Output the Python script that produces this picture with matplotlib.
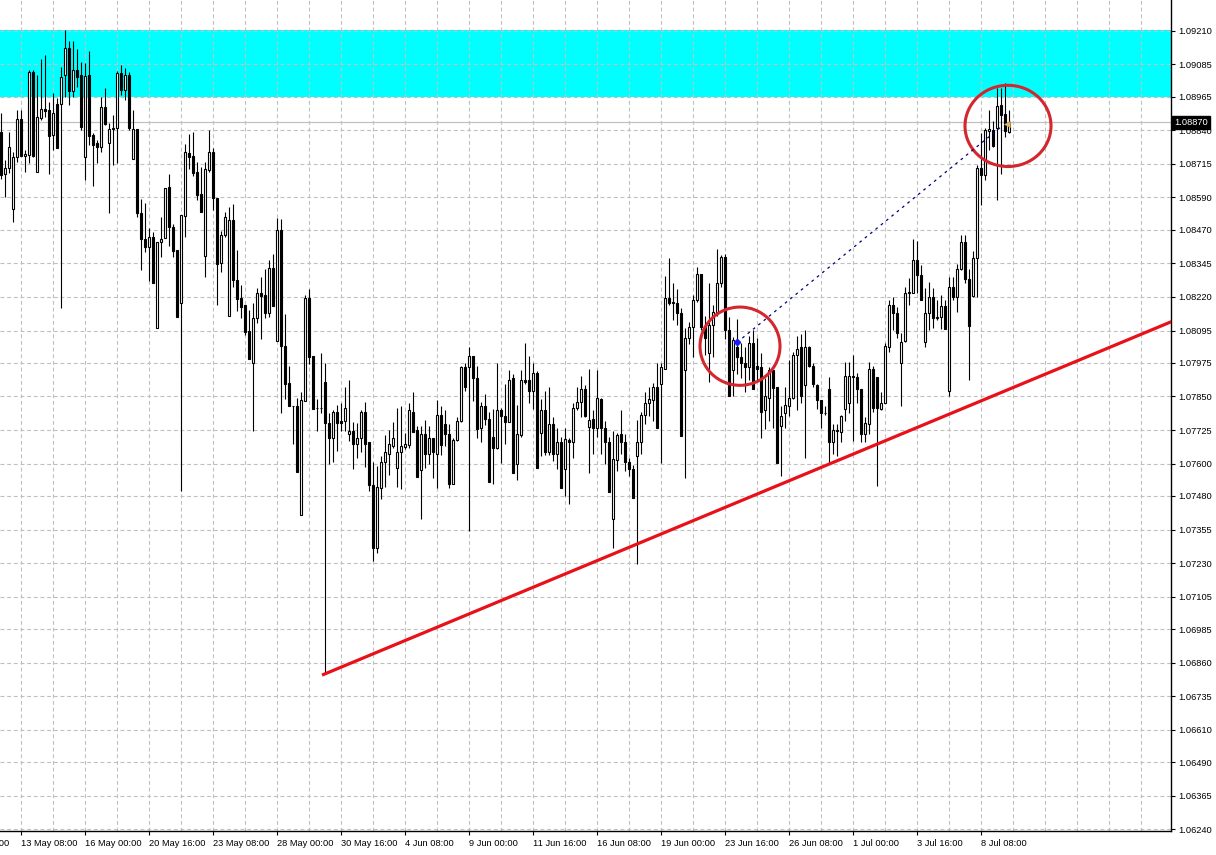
import numpy as np
import matplotlib
matplotlib.use("Agg")
import matplotlib.pyplot as plt
from matplotlib.patches import Ellipse

# ---------------- data (EURUSD H4) ----------------
opens = [
1.08834,1.08677,1.08700,1.08547,1.08741,1.08882,1.08745,1.08748,1.09058,1.08685,
1.08886,1.08919,1.08916,1.08822,1.08938,1.08938,1.09046,1.09147,1.08987,1.09065,
1.09046,1.08741,1.09046,1.08822,1.08793,1.08778,1.08927,1.08793,1.08845,1.08849,
1.09054,1.08991,1.09046,1.08733,1.08845,1.08532,1.08435,1.08405,1.08443,1.08103,
1.08424,1.08439,1.08629,1.08480,1.08394,1.08197,1.08521,1.08756,1.08745,1.08685,
1.08603,1.08372,1.08692,1.08760,1.08588,1.08346,1.08450,1.08151,1.08506,1.08282,
1.08215,1.08189,1.08092,1.07973,1.08140,1.08234,1.08226,1.08159,1.08327,1.08055,
1.08469,1.08037,1.07899,1.07816,1.07816,1.07410,1.07835,1.08215,1.07999,1.07809,
1.07809,1.07903,1.07753,1.07697,1.07794,1.07760,1.07760,1.07712,1.07723,1.07675,
1.07697,1.07794,1.07679,1.07522,1.07287,1.07511,1.07607,1.07638,1.07667,1.07585,
1.07642,1.07664,1.07671,1.07794,1.07726,1.07577,1.07712,1.07638,1.07697,1.07638,
1.07783,1.07749,1.07712,1.07526,1.07690,1.07760,1.07958,1.07958,1.07999,1.07917,
1.07734,1.07813,1.07768,1.07701,1.07660,1.07798,1.07779,1.07756,1.07917,1.07600,
1.07708,1.07913,1.07913,1.07872,1.07936,1.07716,1.07801,1.07642,1.07749,1.07638,
1.07682,1.07581,1.07690,1.07679,1.07809,1.07831,1.07876,1.07738,1.07768,1.07734,
1.07842,1.07734,1.07679,1.07395,1.07615,1.07712,1.07679,1.07607,1.07581,1.07630,
1.07682,1.07783,1.07824,1.07838,1.07884,1.07895,1.07954,1.08215,1.08200,1.08197,
1.08159,1.07947,1.08066,1.08107,1.08208,1.08305,1.08107,1.08010,1.08114,1.08163,
1.08271,1.08368,1.08096,1.07950,1.08033,1.07995,1.07973,1.07958,1.08048,1.07965,
1.07958,1.07798,1.07846,1.07947,1.07884,1.07741,1.07787,1.07816,1.07846,1.08006,
1.08033,1.07891,1.08033,1.07965,1.07891,1.07838,1.07787,1.07876,1.07682,1.07723,
1.07719,1.07805,1.07824,1.07928,1.07921,1.07876,1.07712,1.07749,1.07954,1.07921,
1.07805,1.07827,1.08033,1.08189,1.08159,1.07973,1.08055,1.08234,1.08234,1.08357,
1.08301,1.08051,1.08159,1.08219,1.08140,1.08144,1.08186,1.07872,1.08256,1.08219,
1.08323,1.08424,1.08286,1.08223,1.08364,1.08700,1.08673,1.08837,1.08841,1.08849,
1.08934,1.08901,1.08834]

highs = [
1.08905,1.08730,1.08834,1.08760,1.08916,1.08916,1.08767,1.09065,1.09065,1.09046,
1.09106,1.09118,1.08946,1.08980,1.08961,1.09076,1.09214,1.09170,1.09170,1.09143,
1.09095,1.09091,1.09136,1.08830,1.08804,1.08965,1.08998,1.08868,1.08897,1.09061,
1.09083,1.09072,1.09058,1.08916,1.08845,1.08584,1.08570,1.08476,1.08462,1.08424,
1.08517,1.08555,1.08677,1.08491,1.08394,1.08524,1.08789,1.08826,1.08834,1.08723,
1.08704,1.08723,1.08841,1.08774,1.08588,1.08465,1.08536,1.08555,1.08566,1.08394,
1.08263,1.08189,1.08170,1.08197,1.08252,1.08294,1.08323,1.08357,1.08379,1.08513,
1.08509,1.08155,1.07965,1.07816,1.07846,1.07868,1.08226,1.08248,1.07999,1.07842,
1.08010,1.07973,1.07787,1.07798,1.07820,1.07824,1.07884,1.07913,1.07756,1.07753,
1.07801,1.07831,1.07679,1.07607,1.07592,1.07627,1.07708,1.07726,1.07756,1.07809,
1.07813,1.07716,1.07824,1.07865,1.07741,1.07741,1.07764,1.07741,1.07697,1.07838,
1.07813,1.07798,1.07749,1.07697,1.07772,1.07965,1.07973,1.08033,1.08002,1.07965,
1.07831,1.07861,1.07791,1.07805,1.07973,1.07809,1.07895,1.07950,1.07932,1.07820,
1.07950,1.08048,1.07999,1.07973,1.07943,1.07842,1.07872,1.07884,1.07772,1.07734,
1.07701,1.07734,1.07697,1.07824,1.07884,1.07925,1.07891,1.07954,1.07801,1.07947,
1.07846,1.07760,1.07701,1.07723,1.07716,1.07798,1.07712,1.07623,1.07596,1.07764,
1.07794,1.07865,1.07884,1.07899,1.07973,1.07973,1.08298,1.08364,1.08271,1.08248,
1.08178,1.08103,1.08126,1.08226,1.08331,1.08305,1.08148,1.08271,1.08189,1.08398,
1.08375,1.08379,1.08144,1.08070,1.08137,1.08048,1.08033,1.08074,1.08099,1.08066,
1.08010,1.07917,1.07958,1.07947,1.07884,1.07816,1.07884,1.07984,1.08014,1.08074,
1.08081,1.08096,1.08037,1.07973,1.07895,1.07838,1.07813,1.07921,1.07749,1.07749,
1.07783,1.07977,1.07977,1.08006,1.07939,1.07876,1.07772,1.07977,1.07965,1.07921,
1.07868,1.08048,1.08208,1.08219,1.08182,1.08085,1.08256,1.08290,1.08435,1.08428,
1.08338,1.08252,1.08275,1.08252,1.08208,1.08226,1.08208,1.08294,1.08294,1.08342,
1.08450,1.08450,1.08323,1.08390,1.08711,1.08830,1.08849,1.08916,1.08875,1.08998,
1.08998,1.09017,1.08916]

lows = [
1.08658,1.08592,1.08681,1.08499,1.08723,1.08745,1.08685,1.08719,1.08741,1.08685,
1.08879,1.08890,1.08677,1.08767,1.08774,1.08178,1.08965,1.08934,1.08965,1.09002,
1.08841,1.08655,1.08785,1.08633,1.08719,1.08760,1.08860,1.08532,1.08711,1.08719,
1.08972,1.08953,1.08841,1.08733,1.08517,1.08320,1.08387,1.08278,1.08271,1.08103,
1.08368,1.08439,1.08409,1.08368,1.08144,1.07500,1.08443,1.08696,1.08670,1.08581,
1.08536,1.08294,1.08685,1.08543,1.08189,1.08313,1.08443,1.08151,1.08256,1.08166,
1.08140,1.08077,1.07991,1.07723,1.08122,1.08062,1.08140,1.08144,1.08186,1.08055,
1.07787,1.07842,1.07813,1.07675,1.07570,1.07410,1.07835,1.07969,1.07805,1.07723,
1.07787,1.06818,1.07600,1.07607,1.07649,1.07723,1.07723,1.07686,1.07581,1.07623,
1.07642,1.07589,1.07500,1.07239,1.07269,1.07470,1.07515,1.07559,1.07660,1.07515,
1.07507,1.07656,1.07660,1.07719,1.07552,1.07395,1.07585,1.07600,1.07548,1.07511,
1.07634,1.07667,1.07511,1.07526,1.07686,1.07756,1.07872,1.07351,1.07835,1.07697,
1.07679,1.07745,1.07533,1.07526,1.07656,1.07604,1.07675,1.07756,1.07567,1.07540,
1.07701,1.07895,1.07824,1.07805,1.07585,1.07627,1.07634,1.07634,1.07611,1.07581,
1.07511,1.07481,1.07451,1.07623,1.07798,1.07772,1.07772,1.07567,1.07638,1.07701,
1.07638,1.07600,1.07496,1.07287,1.07574,1.07638,1.07574,1.07555,1.07474,1.07227,
1.07638,1.07749,1.07779,1.07760,1.07734,1.07604,1.07954,1.08189,1.08133,1.08114,
1.07704,1.07548,1.08044,1.07995,1.08200,1.08096,1.08006,1.07903,1.07995,1.08151,
1.08256,1.08062,1.07850,1.07850,1.07932,1.07917,1.07868,1.07910,1.07876,1.07910,
1.07697,1.07730,1.07760,1.07734,1.07604,1.07555,1.07734,1.07779,1.07842,1.07798,
1.07824,1.07623,1.07958,1.07887,1.07805,1.07734,1.07783,1.07600,1.07638,1.07630,
1.07679,1.07760,1.07787,1.07686,1.07824,1.07679,1.07679,1.07712,1.07791,1.07518,
1.07798,1.07824,1.08017,1.08096,1.08066,1.07816,1.08051,1.08189,1.08234,1.08234,
1.08208,1.08033,1.08096,1.08103,1.08133,1.08100,1.08100,1.07853,1.08208,1.08163,
1.08320,1.08271,1.07910,1.08219,1.08219,1.08562,1.08655,1.08767,1.08778,1.08581,
1.08677,1.08815,1.08830]

closes = [
1.08673,1.08700,1.08778,1.08741,1.08882,1.08745,1.08752,1.09058,1.08745,1.08890,
1.08919,1.08912,1.08819,1.08905,1.08774,1.09039,1.09147,1.08987,1.09065,1.09039,
1.08853,1.09043,1.08819,1.08785,1.08778,1.08927,1.08864,1.08845,1.08849,1.09054,
1.08991,1.09046,1.08849,1.08845,1.08532,1.08435,1.08405,1.08443,1.08271,1.08424,
1.08435,1.08625,1.08480,1.08390,1.08144,1.08524,1.08760,1.08741,1.08681,1.08599,
1.08536,1.08696,1.08760,1.08588,1.08342,1.08450,1.08517,1.08506,1.08282,1.08211,
1.08182,1.08089,1.07991,1.08140,1.08234,1.08223,1.08159,1.08327,1.08186,1.08469,
1.08037,1.07895,1.07816,1.07814,1.07570,1.07838,1.08215,1.07995,1.07805,1.07809,
1.07807,1.07753,1.07697,1.07794,1.07753,1.07753,1.07809,1.07723,1.07675,1.07697,
1.07794,1.07675,1.07522,1.07287,1.07515,1.07607,1.07642,1.07675,1.07697,1.07642,
1.07667,1.07675,1.07798,1.07719,1.07552,1.07712,1.07638,1.07697,1.07642,1.07783,
1.07671,1.07712,1.07526,1.07690,1.07760,1.07958,1.07884,1.07999,1.07917,1.07730,
1.07813,1.07768,1.07533,1.07660,1.07798,1.07779,1.07756,1.07913,1.07567,1.07712,
1.07913,1.07903,1.07872,1.07936,1.07585,1.07798,1.07642,1.07749,1.07638,1.07682,
1.07511,1.07693,1.07679,1.07809,1.07831,1.07876,1.07776,1.07764,1.07734,1.07846,
1.07734,1.07679,1.07496,1.07619,1.07708,1.07679,1.07607,1.07581,1.07474,1.07682,
1.07783,1.07824,1.07842,1.07887,1.07734,1.07958,1.08215,1.08197,1.08197,1.08159,
1.07704,1.08066,1.08107,1.08208,1.08305,1.08107,1.08066,1.08114,1.08163,1.08271,
1.08368,1.08096,1.07853,1.08059,1.07995,1.07973,1.07958,1.08048,1.07876,1.07954,
1.07794,1.07850,1.07950,1.07880,1.07604,1.07779,1.07820,1.07846,1.08006,1.08025,
1.07853,1.08033,1.07965,1.07895,1.07838,1.07787,1.07787,1.07679,1.07726,1.07726,
1.07776,1.07925,1.07925,1.07921,1.07876,1.07712,1.07753,1.07954,1.07809,1.07809,
1.07827,1.08037,1.08189,1.08159,1.08085,1.08051,1.08234,1.08237,1.08357,1.08301,
1.08208,1.08159,1.08219,1.08140,1.08144,1.08186,1.08100,1.08256,1.08219,1.08323,
1.08424,1.08286,1.08111,1.08364,1.08700,1.08673,1.08841,1.08845,1.08782,1.08931,
1.08897,1.08837,1.08870]

price_labels = ["1.09210","1.09085","1.08965","1.08840","1.08715","1.08590","1.08470",
                "1.08345","1.08220","1.08095","1.07975","1.07850","1.07725","1.07600",
                "1.07480","1.07355","1.07230","1.07105","1.06985","1.06860","1.06735",
                "1.06610","1.06490","1.06365","1.06240"]
time_labels = ["13 May 08:00","16 May 00:00","20 May 16:00","23 May 08:00","28 May 00:00",
               "30 May 16:00","4 Jun 08:00","9 Jun 00:00","11 Jun 16:00","16 Jun 08:00",
               "19 Jun 00:00","23 Jun 16:00","26 Jun 08:00","1 Jul 00:00","3 Jul 16:00",
               "8 Jul 08:00"]
time_label_bar = [5, 21, 37, 53, 69, 85, 101, 117, 133, 149, 165, 181, 197, 213, 229, 245]

zone_top, zone_bottom = 1.09213, 1.08963          # cyan supply zone
bid_price = 1.08870
trend_bars = [80.25, 292.25]                       # red trend line anchors
trend_prices = [1.06814, 1.08126]
ellipse_1 = (184.75, 1.08037, 20.0, 0.00291)       # centre bar, centre price, width, height
ellipse_2 = (251.75, 1.08856, 21.5, 0.00302)
dotted_bars = [184.0, 249.75]
dotted_prices = [1.08051, 1.08849]

# ---------------- figure ----------------
W, H = 1216, 855
fig = plt.figure(figsize=(W / 100, H / 100), dpi=100, facecolor="white")
ax = fig.add_axes([0, 24 / H, 1171 / W, 831 / H])
ax.set_facecolor("white")

n = len(opens)
x = np.arange(n)
o = np.array(opens); h = np.array(highs); l = np.array(lows); c = np.array(closes)

ax.set_xlim(-0.25, 292.5)
ax.set_ylim(1.062344, 1.093242)

# zone
ax.axhspan(zone_bottom, zone_top, color="#00ffff", zorder=0.5, lw=0)

# grid
grid_kw = dict(color="#c0c0c0", lw=0.8, ls=(0, (3.5, 2.5)), zorder=1)
for gx in range(-3, 293, 8):
    ax.axvline(gx, **grid_kw)
yt = [float(s) for s in price_labels]
for gy in yt:
    ax.axhline(gy, **grid_kw)

# bid line
ax.axhline(bid_price, color="#c0c0c0", lw=0.9, zorder=1.5)

# candles
ax.vlines(x, l, h, color="black", lw=0.8, zorder=3)
up = c >= o
ax.bar(x[up], (c - o)[up], bottom=o[up], width=0.55, facecolor="white",
       edgecolor="black", linewidth=0.8, zorder=4)
ax.bar(x[~up], (c - o)[~up], bottom=o[~up], width=0.55, facecolor="black",
       edgecolor="black", linewidth=0.8, zorder=4)

# trend line (ray)
slope = (trend_prices[1] - trend_prices[0]) / (trend_bars[1] - trend_bars[0])
x_end = 300
ax.plot([trend_bars[0], x_end], [trend_prices[0], trend_prices[0] + slope * (x_end - trend_bars[0])],
        color="#e8111a", lw=2.3, solid_capstyle="butt", zorder=5)

# ellipses
for (cx, cy, ew, eh) in (ellipse_1, ellipse_2):
    ax.add_patch(Ellipse((cx, cy), ew, eh, fill=False, edgecolor="#d3262d", lw=2.2, zorder=6))

# dotted blue line
ax.plot(dotted_bars, dotted_prices, color="#000080", lw=0.9, ls=(0, (2.2, 3.3)), zorder=6)
ax.plot([dotted_bars[0]], [dotted_prices[0]], marker="D", ms=3.2, color="#1a1aff", zorder=7)
ax.plot([251.5], [1.08864], marker="<", ms=5, color="#e2b86a", mec="#c89a40", mew=0.5, zorder=7)

# axes cosmetics
for s in ("top", "left"):
    ax.spines[s].set_visible(False)
for s in ("right", "bottom"):
    ax.spines[s].set_color("black")
    ax.spines[s].set_linewidth(1.0)

ax.yaxis.tick_right()
ax.set_yticks(yt)
ax.set_yticklabels(price_labels)
ax.tick_params(axis="y", direction="out", length=3, width=0.8, pad=2,
               labelsize=6.7, labelcolor="black", colors="black")
for t in ax.get_yticklabels():
    t.set_fontfamily("Liberation Sans")

ax.set_xticks(time_label_bar)
ax.set_xticklabels(time_labels)
ax.tick_params(axis="x", direction="out", length=3, width=0.8, pad=2.5,
               labelsize=6.7, labelcolor="black", colors="black")
for t in ax.get_xticklabels():
    t.set_ha("left")
    t.set_fontfamily("Liberation Sans")

# partially visible first time label
fig.text(9 / W, (H - 843) / H, "8 May 16:00", ha="right", va="center",
         fontsize=6.7, family="Liberation Sans", color="black")

# bid price box on the axis
ax.text(1 + 3 / 1171, bid_price, "1.08870", transform=ax.get_yaxis_transform(),
        ha="left", va="center", fontsize=6.7, family="Liberation Sans", color="white",
        bbox=dict(boxstyle="square,pad=0.22", fc="black", ec="black"),
        clip_on=False, zorder=10)

fig.savefig("out.png", dpi=100, facecolor="white")
